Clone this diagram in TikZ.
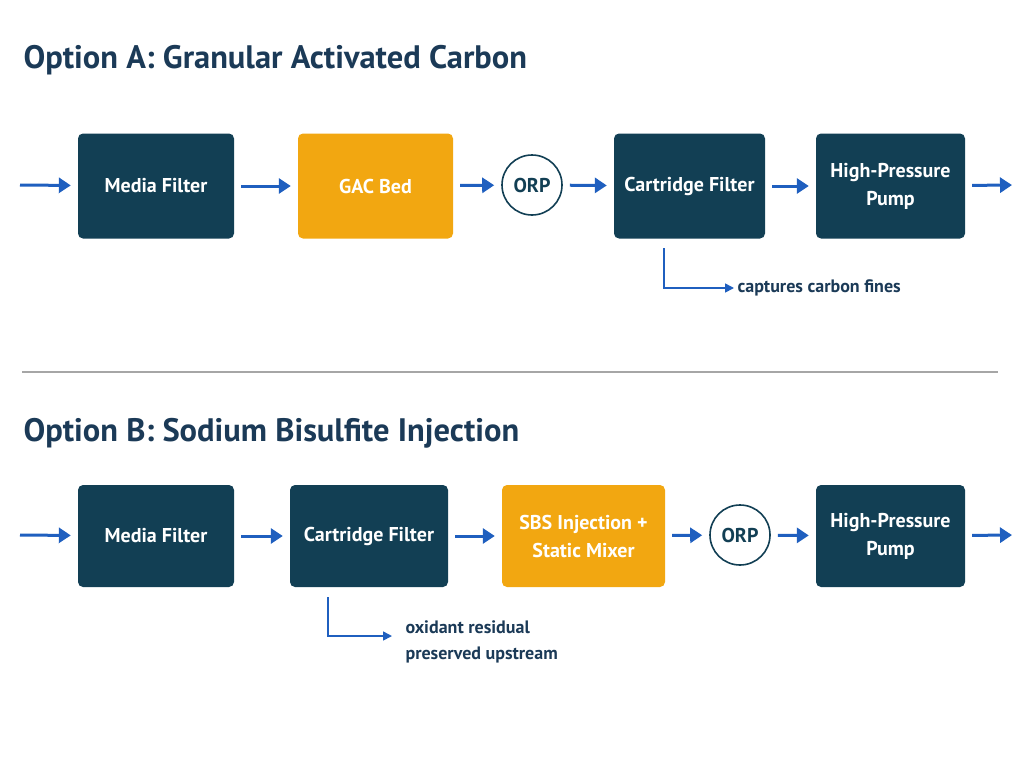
\documentclass[tikz,border=0pt]{standalone}
\usepackage{fontspec}
\setmainfont{PT Sans}
\usetikzlibrary{arrows.meta}
\definecolor{navy}{HTML}{123F54}
\definecolor{ttl}{HTML}{1B3A57}
\definecolor{org}{HTML}{F2A711}
\definecolor{blu}{HTML}{1F5FBF}
\begin{document}
\begin{tikzpicture}[x=1pt,y=-1pt,
 box/.style={draw=none,fill=navy,rounded corners=5pt,text=white,font=\fontsize{20}{28}\selectfont\bfseries,align=center,minimum height=105pt,inner sep=2pt},
 obox/.style={box,fill=org},
 orp/.style={circle,draw=navy,line width=1.6pt,minimum size=60pt,inner sep=0pt,text=navy,font=\fontsize{20}{22}\selectfont\bfseries},
 fl/.style={blu,line width=3pt,shorten <=7pt,shorten >=7pt,-{Triangle[length=12pt,width=15pt]}},
 nl/.style={blu,line width=1.6pt,-{Triangle[length=9pt,width=9pt]}},
 ttl/.style={text=ttl,font=\fontsize{32.5}{36}\selectfont\bfseries,anchor=west},
 note/.style={text=ttl,font=\fontsize{18}{26}\selectfont\bfseries,anchor=west,align=left}]
\useasboundingbox (0,0) rectangle (1024,768);
\node[ttl] (ta) at (20,60) {Option A: Granular Activated Carbon};
\node[box,minimum width=156pt] (a1) at (156,186) {Media Filter};
\node[obox,minimum width=155pt] (a2) at (375.5,186) {GAC Bed};
\node[orp] (a3) at (532,185) {ORP};
\node[box,minimum width=151pt] (a4) at (689.5,186) {Cartridge Filter};
\node[box,minimum width=149pt] (a5) at (890.5,186) {High-Pressure\\Pump};
\coordinate (ai) at (13,185); \coordinate (ao) at (1019,185);
\draw[fl] (ai) -- (a1);
\draw[fl] (a1) -- (a2);
\draw[fl] (a2) -- (a3);
\draw[fl] (a3) -- (a4);
\draw[fl] (a4) -- (a5);
\draw[fl] (a5) -- (ao);
\node[note] (na) at (734,288) {captures carbon fines};
\draw[nl] (664,248) -- (664,288) -- (na.west);
\draw[gray!70,line width=1.2pt] (22,372) -- (998,372);
\node[ttl] (tb) at (20,433) {Option B: Sodium Bisulfite Injection};
\node[box,minimum width=156pt,minimum height=102pt] (b1) at (156,536) {Media Filter};
\node[box,minimum width=158pt,minimum height=102pt] (b2) at (369,536) {Cartridge Filter};
\node[obox,minimum width=163pt,minimum height=102pt] (b3) at (583.5,536) {SBS Injection +\\Static Mixer};
\node[orp] (b4) at (740,535) {ORP};
\node[box,minimum width=149pt,minimum height=102pt] (b5) at (890.5,536) {High-Pressure\\Pump};
\coordinate (bi) at (13,535); \coordinate (bo) at (1019,535);
\draw[fl] (bi) -- (b1);
\draw[fl] (b1) -- (b2);
\draw[fl] (b2) -- (b3);
\draw[fl] (b3) -- (b4);
\draw[fl] (b4) -- (b5);
\draw[fl] (b5) -- (bo);
\node[note,anchor=north west] (nb) at (402,617) {oxidant residual\\preserved upstream};
\coordinate (nbp) at (392,636);
\draw[nl] (328,597) -- (328,636) -- (nbp);
\end{tikzpicture}
\end{document}
